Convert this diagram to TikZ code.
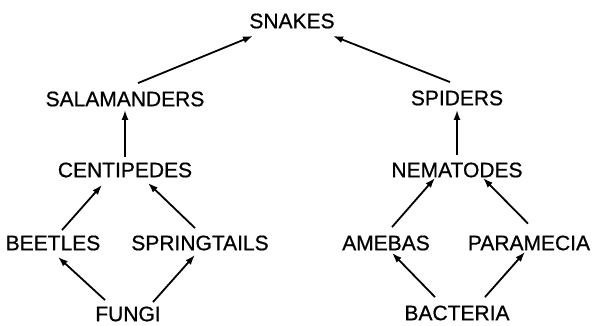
\documentclass[tikz,border=0pt]{standalone}
\usepackage{fontspec}
\setmainfont{Liberation Sans}
\newfontfamily\heavyfont[BoldFont={Liberation Sans},BoldFeatures={FakeBold=0.7}]{Liberation Sans}
\usetikzlibrary{arrows.meta}
\begin{document}
\begin{tikzpicture}[x=1pt,y=1pt,
  lbl/.style={inner sep=0pt,outer sep=0pt,font=\heavyfont\bfseries\fontsize{21}{23}\selectfont},
  link/.style={line width=1.8pt,-{Latex[length=10pt,width=7pt]}}]
\useasboundingbox (0,0) rectangle (595,325);
\node[lbl] (snakes) at (292,304) {SNAKES};
\node[lbl] (sal) at (125,226) {SALAMANDERS};
\node[lbl] (spiders) at (457,227) {SPIDERS};
\node[lbl] (cent) at (125,155) {CENTIPEDES};
\node[lbl] (nem) at (457,155) {NEMATODES};
\node[lbl] (beetles) at (53,82) {BEETLES};
\node[lbl] (spring) at (200,82) {SPRINGTAILS};
\node[lbl] (fungi) at (128,11) {FUNGI};
\node[lbl] (amebas) at (386,82) {AMEBAS};
\node[lbl] (para) at (529,82) {PARAMECIA};
\node[lbl] (bact) at (457,12) {BACTERIA};
\draw[link] ([shift={(13,8.5)}]sal.north) -- ([shift={(-39,-7.5)}]snakes.south);
\draw[link] ([shift={(-7,8.5)}]spiders.north) -- ([shift={(41,-7.5)}]snakes.south);
\draw[link] ([shift={(0,5.5)}]cent.north) -- ([shift={(0,-3.5)}]sal.south);
\draw[link] ([shift={(0,7.5)}]nem.north) -- ([shift={(0,-4.5)}]spiders.south);
\draw[link] ([shift={(9,5.5)}]beetles.north) -- ([shift={(-23,-7.5)}]cent.south);
\draw[link] ([shift={(-5,7.5)}]spring.north) -- ([shift={(23,-5.5)}]cent.south);
\draw[link] ([shift={(-23,6.5)}]fungi.north) -- ([shift={(5,-6.5)}]beetles.south);
\draw[link] ([shift={(25,4.5)}]fungi.north) -- ([shift={(-5,-4.5)}]spring.south);
\draw[link] ([shift={(6,8.5)}]amebas.north) -- ([shift={(-22,-0.5)}]nem.south);
\draw[link] ([shift={(-1,12)}]para.north) -- ([shift={(26,-0.5)}]nem.south);
\draw[link] ([shift={(-22,8.5)}]bact.north) -- ([shift={(6,-2.5)}]amebas.south);
\draw[link] ([shift={(28,8.5)}]bact.north) -- ([shift={(-4,-1.5)}]para.south);
\end{tikzpicture}
\end{document}
